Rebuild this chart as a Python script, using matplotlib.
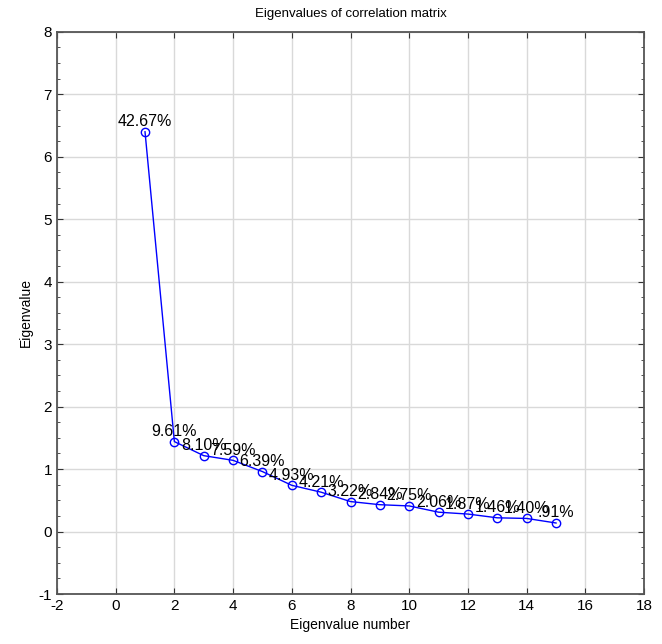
import matplotlib.pyplot as plt
from matplotlib.ticker import MultipleLocator

plt.rcParams['font.family'] = ['Liberation Sans', 'DejaVu Sans']
plt.rcParams['axes.unicode_minus'] = False

# eigenvalue number and eigenvalue
numbers = list(range(1, 16))
eigenvalues = [6.40, 1.44, 1.215, 1.14, 0.96, 0.74, 0.63, 0.48, 0.43, 0.41,
               0.31, 0.28, 0.22, 0.21, 0.137]
pct_labels = ['42.67%', '9.61%', '8.10%', '7.59%', '6.39%', '4.93%', '4.21%',
              '3.22%', '2.84%', '2.75%', '2.06%', '1.87%', '1.46%', '1.40%', '.91%']

fig = plt.figure(figsize=(6.62, 6.44), dpi=100)
ax = fig.add_axes([0.086, 0.0776, 0.887, 0.873])

ax.plot(numbers, eigenvalues, color='#0000ff', lw=1, marker='o', ms=6,
        mfc='none', mec='#0000ff', mew=1, zorder=3)

for x, y, lab in zip(numbers, eigenvalues, pct_labels):
    ax.annotate(lab, (x, y), xytext=(0, 4), textcoords='offset points',
                ha='center', va='baseline', fontsize=11.5, color='black')

ax.set_xlim(-2, 18)
ax.set_ylim(-1, 8)
ax.xaxis.set_major_locator(MultipleLocator(2))
ax.yaxis.set_major_locator(MultipleLocator(1))
ax.yaxis.set_minor_locator(MultipleLocator(0.25))
ax.grid(True, which='major', color='#d9d9d9', lw=1)
ax.set_axisbelow(True)

ax.tick_params(which='both', direction='in', top=True, right=True, labelsize=11,
               color='#333333')
ax.tick_params(which='major', length=4)
ax.tick_params(which='minor', length=2)
for s in ax.spines.values():
    s.set_color('#555555')
    s.set_linewidth(1.3)

ax.set_title('Eigenvalues of correlation matrix', fontsize=9.5, pad=11)
ax.set_xlabel('Eigenvalue number', fontsize=10)
ax.set_ylabel('Eigenvalue', fontsize=10)

fig.savefig('out.png', dpi=100)
